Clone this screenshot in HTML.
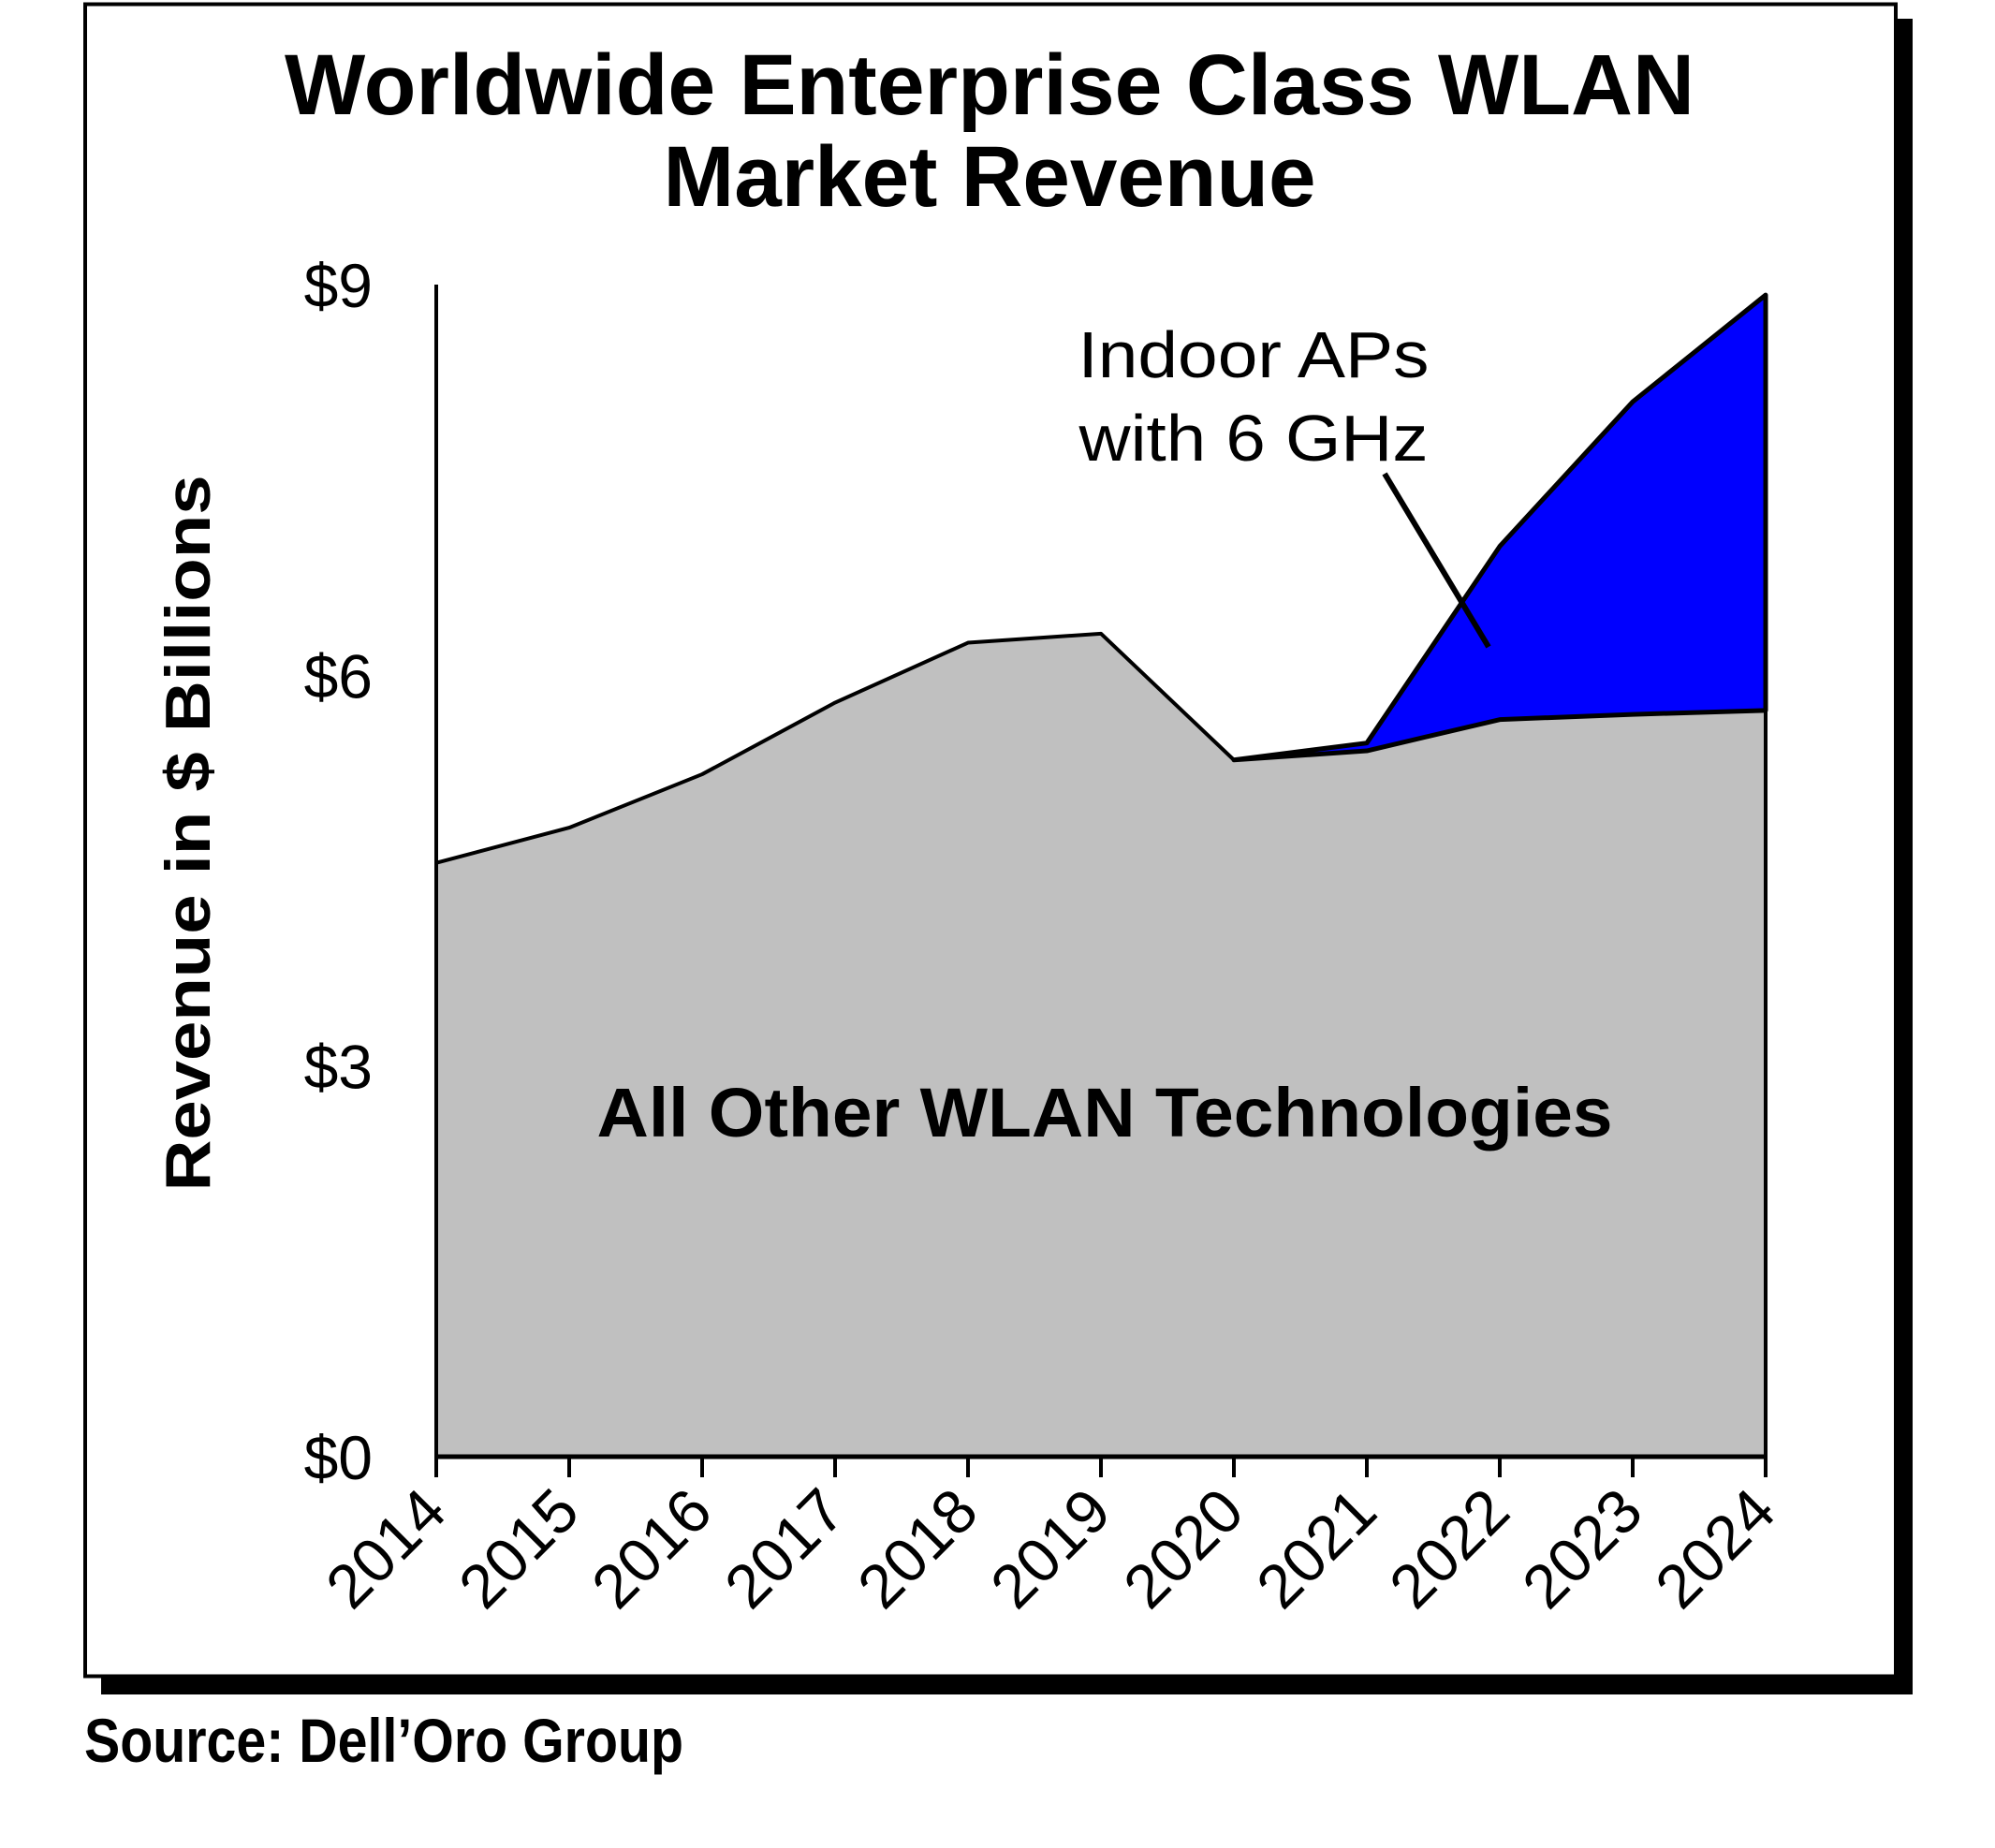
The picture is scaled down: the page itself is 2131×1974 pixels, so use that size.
<!DOCTYPE html>
<html><head><meta charset="utf-8"><style>
html,body{margin:0;padding:0;background:#fff;}
svg{display:block;}
text{font-family:"Liberation Sans",Arial,sans-serif;}
</style></head><body>
<svg id="chart" width="2131" height="1974" viewBox="0 0 2131 1974" xmlns="http://www.w3.org/2000/svg">
  <rect x="108" y="20" width="1935" height="1790" fill="#000"/>
  <rect x="91" y="4.5" width="1934" height="1786" fill="#fff" stroke="#000" stroke-width="4"/>
  <text x="1057" y="122" text-anchor="middle" font-size="92" font-weight="bold" textLength="1506" lengthAdjust="spacingAndGlyphs">Worldwide Enterprise Class WLAN</text>
  <text x="1057" y="220" text-anchor="middle" font-size="92" font-weight="bold" textLength="697" lengthAdjust="spacingAndGlyphs">Market Revenue</text>
  <g id="plot"></g>
  <text transform="translate(224,890) rotate(-90)" text-anchor="middle" font-size="68" font-weight="bold" textLength="765" lengthAdjust="spacingAndGlyphs">Revenue in $ Billions</text>
  <text x="1180" y="1214" text-anchor="middle" font-size="74" font-weight="bold" textLength="1085" lengthAdjust="spacingAndGlyphs">All Other WLAN Technologies</text>
  <text x="1339" y="403" text-anchor="middle" font-size="70" textLength="375" lengthAdjust="spacingAndGlyphs">Indoor APs</text>
  <text x="1339" y="492" text-anchor="middle" font-size="70" textLength="373" lengthAdjust="spacingAndGlyphs">with 6 GHz</text>
  <line x1="1479" y1="506" x2="1590" y2="691" stroke="#000" stroke-width="6"/>
  <text x="90" y="1882" font-size="66" font-weight="bold" textLength="640" lengthAdjust="spacingAndGlyphs">Source: Dell’Oro Group</text>
</svg>
<script>
const years = ["2014","2015","2016","2017","2018","2019","2020","2021","2022","2023","2024"];
const otherWlan = [4.56,4.83,5.24,5.79,6.25,6.32,5.35,5.42,5.66,5.70,5.73];
const indoor6GHz = [0,0,0,0,0,0,0,0.06,1.33,2.40,3.19];
const yTicks = [0,3,6,9];
const yTickLabels = ["$0","$3","$6","$9"];

const NS="http://www.w3.org/2000/svg";
const plot=document.getElementById('plot');
const X0=466, X1=1886, Y0=1556, Y1=304, YMAX=9;
const xs=i=>X0+(X1-X0)*i/(years.length-1);
const ys=v=>Y0-(Y0-Y1)*v/YMAX;
function mk(tag,attrs){const e=document.createElementNS(NS,tag);for(const k in attrs)e.setAttribute(k,attrs[k]);return e;}

let ptsG=[`${xs(0)},${ys(0)}`];
otherWlan.forEach((v,i)=>ptsG.push(`${xs(i)},${ys(v)}`));
ptsG.push(`${xs(years.length-1)},${ys(0)}`);
const gray=mk('polygon',{points:ptsG.join(' '),fill:'#c0c0c0',stroke:'#000','stroke-width':4,'stroke-linejoin':'round'});


plot.appendChild(gray);

let topPts=[],botPts=[];
for(let i=0;i<years.length;i++){
  if(indoor6GHz[i]>0||(i+1<years.length&&indoor6GHz[i+1]>0)){
    topPts.push(`${xs(i)},${ys(otherWlan[i]+indoor6GHz[i])}`);
    botPts.unshift(`${xs(i)},${ys(otherWlan[i])}`);
  }
}
const blue=mk('polygon',{points:topPts.concat(botPts).join(' '),fill:'#0000ff',stroke:'#000','stroke-width':5,'stroke-linejoin':'round'});


plot.appendChild(blue);

const yAxis=mk('line',{x1:X0,y1:Y1,x2:X0,y2:Y0+20,stroke:'#000','stroke-width':4});


plot.appendChild(yAxis);
const xAxis=mk('line',{x1:X0,y1:Y0,x2:X1+2,y2:Y0,stroke:'#000','stroke-width':5});


plot.appendChild(xAxis);

yTicks.forEach((v,i)=>{
  const t=mk('text',{x:398,y:ys(v)+24,'text-anchor':'end','font-size':66});
  t.textContent=yTickLabels[i];
  
  
  plot.appendChild(t);
});

years.forEach((yr,i)=>{
  const tk=mk('line',{x1:xs(i),y1:Y0,x2:xs(i),y2:Y0+22,stroke:'#000','stroke-width':4});
  
  
  plot.appendChild(tk);
  const t=mk('text',{transform:`translate(${xs(i)+14},${Y0+62}) rotate(-45)`,'text-anchor':'end','font-size':66});
  t.textContent=yr;
  
  
  plot.appendChild(t);
});
</script>
</body></html>
